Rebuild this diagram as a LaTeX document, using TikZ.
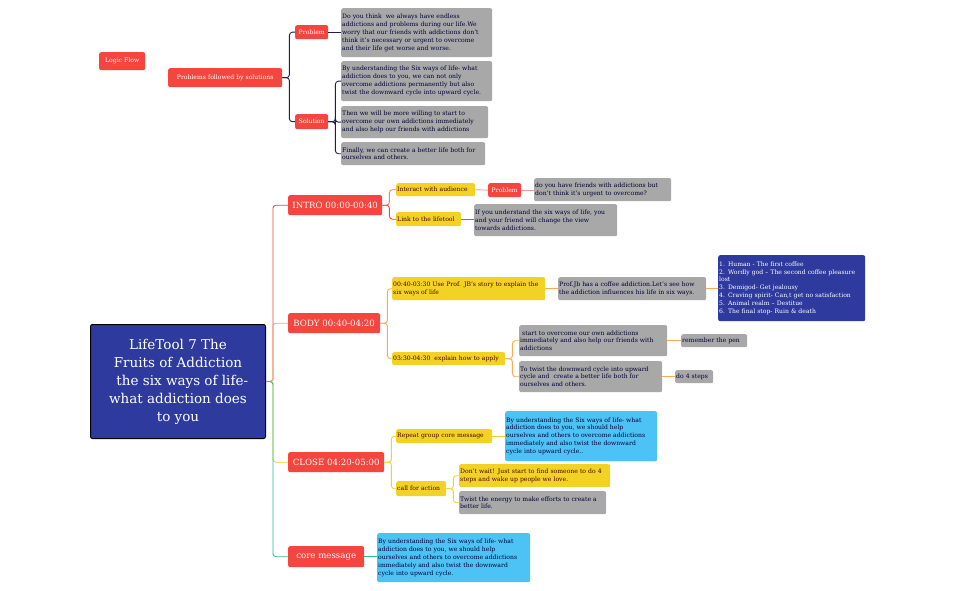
\documentclass[tikz,border=0pt]{standalone}
\usepackage{fontspec}
\setmainfont{DejaVu Serif}
\newcommand\bx[7]{\pgfmathsetmacro\bw{#5-#3-2}\pgfmathsetmacro\bh{#6-#4}%
\node[#2,anchor=north west,text width=\bw pt,minimum height=\bh pt] (#1) at (#3,#4) {#7};}
\definecolor{cred}{HTML}{F4453E}
\definecolor{cgray}{HTML}{A8A8A8}
\definecolor{cyel}{HTML}{F2D325}
\definecolor{cblue}{HTML}{2E3A9E}
\definecolor{clb}{HTML}{4DC3F5}
\definecolor{cnavy}{HTML}{1F1F4F}
\definecolor{corg}{HTML}{F9A95A}
\definecolor{cgreen}{HTML}{2EC08A}
\definecolor{cpink}{HTML}{F59A9A}
\tikzset{
 base/.style={rounded corners=2pt,inner xsep=1pt,inner ysep=1pt,font=\fontsize{6.1}{7.9}\selectfont},
 rbox/.style={base,fill=cred,text=white,align=center},
 gbox/.style={base,fill=cgray,text=black!80!blue,align=left},
 ybox/.style={base,fill=cyel,text=black!70!red,align=left},
 bbox/.style={base,fill=cblue,text=white,align=left},
 lbbox/.style={base,fill=clb,text=black!80!blue,align=left},
 ln/.style={rounded corners=3pt,line width=0.9pt},
}
\begin{document}
\begin{tikzpicture}[x=1pt,y=-1pt]
\fill[white] (0,0) rectangle (955,591);
% top tree
\bx{lf}{rbox}{99}{52}{145}{70}{Logic Flow}
\bx{pfs}{rbox}{168}{68}{282}{87}{Problems followed by solutions}
\bx{p1}{rbox}{295}{25}{328}{39}{Problem}
\bx{s1}{rbox}{295}{114}{328}{129}{Solution}
\bx{g1}{gbox}{341}{8}{492}{57}{Do you think\ \ we always have endless\\addictions and problems during our life.We\\worry that our friends with addictions don't\\think it's necessary or urgent to overcome\\and their life get worse and worse.}
\bx{g2}{gbox}{341}{61}{492}{101}{By understanding the Six ways of life- what\\addiction does to you, we can not only\\overcome addictions permanently but also\\twist the downward cycle into upward cycle.}
\bx{g3}{gbox}{341}{106}{488}{138}{Then we will be more willing to start to\\overcome our own addictions immediately\\and also help our friends with addictions}
\bx{g4}{gbox}{341}{142}{485}{165}{Finally, we can create a better life both for\\ourselves and others.}
\foreach \c in {p1,s1} \draw[ln,cnavy] (pfs.east) -- ++(7,0) |- (\c.west);
\draw[ln,cnavy] (p1.east) -- (p1.east-|g1.west);
\foreach \c in {g2,g3,g4} \draw[ln,cnavy] (s1.east) -- ++(7,0) |- (\c.west);
% main
\node[draw=black,line width=1pt,fill=cblue,text=white,rounded corners=2pt,anchor=north west,minimum width=175pt,minimum height=114pt,align=center,font=\fontsize{13.5}{18}\selectfont] (main) at (90,324) {LifeTool 7 The\\Fruits of Addiction\\\ \ the six ways of life-\\what addiction does\\to you};
\begin{scope}[base/.append style={font=\fontsize{8.6}{11}\selectfont}]
\bx{intro}{rbox}{288}{195}{382}{215}{INTRO 00:00-00:40}
\bx{body}{rbox}{288}{313}{380}{333}{BODY 00:40-04:20}
\bx{close}{rbox}{288}{452}{384}{472}{CLOSE 04:20-05:00}
\bx{core}{rbox}{288}{546}{364}{567}{core message}
\end{scope}
\draw[ln,cred] (main.east) -- ++(7,0) |- (intro.west);
\draw[ln,corg] (main.east) -- ++(7,0) |- (body.west);
\draw[ln,cyel] (main.east) -- ++(7,0) |- (close.west);
\draw[ln,cgreen] (main.east) -- ++(7,0) |- (core.west);
% intro
\bx{ia}{ybox}{396}{183}{475}{196}{Interact with audience}
\bx{lt}{ybox}{396}{212}{461}{226}{Link to the lifetool}
\bx{p2}{rbox}{488}{183}{521}{197}{Problem}
\bx{dy}{gbox}{534}{178}{671}{201}{do you have friends with addictions but\\don't think it's urgent to overcome?}
\bx{iy}{gbox}{474}{204}{617}{236}{If you understand the six ways of life, you\\and your friend will change the view\\towards addictions.}
\draw[ln,cred!70] (intro.east) -- ++(7,0) |- (ia.west);
\draw[ln,cred] (intro.east) -- ++(7,0) |- (lt.west);
\draw[ln,cpink] (ia.east) -- (p2.west);
\draw[ln,cpink] (p2.east) -- (p2.east-|dy.west);
\draw[ln,cred] (lt.east) -- (lt.east-|iy.west);
% body
\bx{y1}{ybox}{392}{277}{545}{300}{00:40-03:30 Use Prof. JB's story to explain the\\six ways of life}
\bx{pj}{gbox}{558}{277}{706}{300}{Prof.Jb has a coffee addiction.Let's see how\\the addiction influences his life in six ways.}
\bx{bl}{bbox}{718}{255}{865}{321}{1. Human - The first coffee\\2. Wordly god -- The second coffee pleasure\\lost\\3. Demigod- Get jealousy\\4. Craving spirit- Can,t get no satisfaction\\5. Animal realm -- Destitue\\6. The final stop- Ruin \& death}
\bx{y2}{ybox}{392}{352}{505}{365}{03:30-04:30\ \ explain how to apply}
\bx{st}{gbox}{519}{325}{667}{356}{\ start to overcome our own addictions\\immediately and also help our friends with\\addictions}
\bx{rp}{gbox}{681}{334}{747}{347}{remember the pen}
\bx{tt}{gbox}{519}{361}{662}{392}{To twist the downward cycle into upward\\cycle and\ \ create a better life both for\\ourselves and others.}
\bx{d4}{gbox}{675}{370}{713}{383}{do 4 steps}
\foreach \c in {y1,y2} \draw[ln,corg] (body.east) -- ++(7,0) |- (\c.west);
\draw[ln,corg] (y1.east) -- (y1.east-|pj.west);
\draw[ln,corg] (pj.east) -- (pj.east-|bl.west);
\foreach \c in {st,tt} \draw[ln,corg] (y2.east) -- ++(7,0) |- (\c.west);
\draw[ln,corg] (st.east) -- (st.east-|rp.west);
\draw[ln,corg] (tt.east) -- (tt.east-|d4.west);
% close
\bx{rg}{ybox}{396}{429}{492}{443}{Repeat group core message}
\bx{lb1}{lbbox}{505}{411}{657}{461}{By understanding the Six ways of life- what\\addiction does to you, we should help\\ourselves and others to overcome addictions\\immediately and also twist the downward\\cycle into upward cycle..}
\bx{ca}{ybox}{396}{481}{446}{496}{call for action}
\bx{dw}{ybox}{459}{464}{610}{487}{Don't wait! Just start to find someone to do 4\\steps and wake up people we love.}
\bx{te}{gbox}{459}{491}{606}{514}{Twist the energy to make efforts to create a\\better life.}
\foreach \c in {rg,ca} \draw[ln,cyel] (close.east) -- ++(7,0) |- (\c.west);
\draw[ln,cyel] (rg.east) -- (rg.east-|lb1.west);
\foreach \c in {dw,te} \draw[ln,cyel] (ca.east) -- ++(7,0) |- (\c.west);
% core
\bx{lb2}{lbbox}{377}{533}{530}{582}{By understanding the Six ways of life- what\\addiction does to you, we should help\\ourselves and others to overcome addictions\\immediately and also twist the downward\\cycle into upward cycle.}
\draw[ln,cgreen] (core.east) -- (core.east-|lb2.west);
\end{tikzpicture}
\end{document}
